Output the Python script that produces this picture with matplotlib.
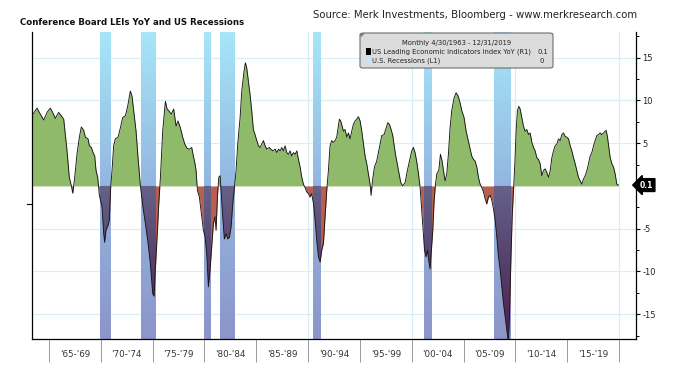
import numpy as np
import matplotlib
matplotlib.use("Agg")
import matplotlib.pyplot as plt
from matplotlib.colors import LinearSegmentedColormap
from matplotlib.patches import FancyBboxPatch, Rectangle, Polygon

# ---------------- data ----------------
lei_years = [
    1963.36, 1963.84, 1964.16, 1964.49, 1964.81, 1965.13, 1965.35, 1965.61, 1965.93, 1966.19,
    1966.42, 1966.58, 1966.74, 1966.96, 1967.16, 1967.29, 1967.48, 1967.70, 1967.93, 1968.12,
    1968.35, 1968.51, 1968.77, 1968.89, 1969.09, 1969.25, 1969.41, 1969.54, 1969.70, 1969.86,
    1970.12, 1970.28, 1970.37, 1970.50, 1970.70, 1970.82, 1970.95, 1971.08, 1971.24, 1971.40,
    1971.66, 1971.89, 1972.11, 1972.37, 1972.59, 1972.85, 1973.01, 1973.17, 1973.40, 1973.59,
    1973.82, 1974.07, 1974.30, 1974.56, 1974.78, 1975.01, 1975.14, 1975.26, 1975.43, 1975.59,
    1975.75, 1975.97, 1976.23, 1976.39, 1976.55, 1976.81, 1977.03, 1977.26, 1977.45, 1977.68,
    1977.90, 1978.10, 1978.32,
    1978.55, 1978.77, 1978.93, 1979.09, 1979.19, 1979.32, 1979.51, 1979.74, 1979.90, 1980.06,
    1980.22, 1980.38, 1980.54, 1980.70, 1980.86, 1981.02, 1981.12, 1981.25, 1981.38, 1981.51,
    1981.64, 1981.76, 1981.92, 1982.09, 1982.25, 1982.41, 1982.57, 1982.73, 1982.89, 1983.05,
    1983.21, 1983.44, 1983.60, 1983.82, 1983.95, 1984.08, 1984.24, 1984.40, 1984.56, 1984.72,
    1984.88, 1985.05, 1985.21, 1985.37, 1985.53, 1985.69, 1985.85, 1986.01, 1986.27, 1986.40,
    1986.59, 1986.82, 1986.98, 1987.14, 1987.30, 1987.46, 1987.62, 1987.78, 1987.94, 1988.10,
    1988.26, 1988.42, 1988.58, 1988.75, 1988.91, 1989.07, 1989.23, 1989.39, 1989.55, 1989.71,
    1989.87, 1990.03, 1990.19, 1990.35, 1990.52, 1990.68, 1990.84, 1991.00, 1991.16, 1991.32,
    1991.48, 1991.64, 1991.80, 1991.96, 1992.12, 1992.28, 1992.45, 1992.61,
    1992.76, 1992.92, 1993.02, 1993.15, 1993.28, 1993.41, 1993.57, 1993.73, 1993.89, 1994.05,
    1994.21, 1994.37, 1994.53, 1994.69, 1994.85, 1995.02, 1995.18, 1995.34, 1995.50, 1995.66,
    1995.82, 1995.98, 1996.08, 1996.21, 1996.40, 1996.62, 1996.88, 1997.11, 1997.33, 1997.53,
    1997.69, 1997.85, 1998.01, 1998.17, 1998.33, 1998.49, 1998.72, 1998.94, 1999.13, 1999.36,
    1999.58, 1999.78, 2000.00, 2000.16, 2000.32, 2000.49, 2000.65, 2000.81, 2000.97, 2001.10,
    2001.23, 2001.39, 2001.52, 2001.64, 2001.77, 2001.90, 2002.03, 2002.16, 2002.29, 2002.42,
    2002.61, 2002.77, 2002.93, 2003.06, 2003.22, 2003.38, 2003.54, 2003.70, 2003.86, 2004.09,
    2004.28, 2004.48, 2004.67, 2004.83, 2005.05, 2005.25, 2005.38, 2005.57, 2005.79, 2005.96,
    2006.12, 2006.28, 2006.44, 2006.60, 2006.76, 2006.92, 2007.08,
    2007.24, 2007.40, 2007.57, 2007.73, 2007.89, 2008.05, 2008.21, 2008.37, 2008.53, 2008.69,
    2008.85, 2009.01, 2009.17, 2009.33, 2009.43, 2009.56, 2009.69, 2009.82, 2009.95, 2010.07,
    2010.20, 2010.33, 2010.46, 2010.62, 2010.78, 2010.94, 2011.10, 2011.27, 2011.43, 2011.59,
    2011.75, 2011.91, 2012.07, 2012.23, 2012.39, 2012.55, 2012.71, 2012.87, 2013.03, 2013.20,
    2013.36, 2013.52, 2013.68, 2013.84, 2014.00, 2014.16, 2014.32, 2014.48, 2014.64, 2014.80,
    2014.97, 2015.13, 2015.29, 2015.45, 2015.61, 2015.77, 2015.93, 2016.09, 2016.25, 2016.41,
    2016.57, 2016.74, 2016.90, 2017.06, 2017.22, 2017.38, 2017.54, 2017.70, 2017.86, 2018.02,
    2018.18, 2018.34, 2018.50, 2018.67, 2018.76, 2018.89, 2019.02, 2019.15, 2019.31, 2019.47,
    2019.63, 2019.79, 2019.95,
]
lei_yoy = [
    8.2, 9.1, 8.4, 7.7, 8.6, 9.1, 8.6, 7.9, 8.6, 8.2,
    7.8, 6.0, 4.1, 1.0, 0.0, -0.85, 1.0, 3.7, 5.7, 6.9,
    6.5, 5.7, 5.5, 4.7, 4.5, 3.9, 3.5, 1.8, 1.0, -1.1,
    -2.5, -5.6, -6.6, -5.2, -4.6, -4.0, -0.2, 1.8, 4.7, 5.5,
    5.7, 6.8, 8.0, 8.2, 9.3, 11.1, 10.5, 8.8, 6.4, 3.3,
    0.0, -2.5, -4.4, -6.7, -9.1, -12.6, -12.9, -9.8, -6.0, -2.1,
    1.0, 6.4, 9.9, 9.0, 8.8, 8.4, 9.0, 7.0, 7.6, 6.8,
    5.7, 4.9, 4.4,
    4.3, 4.5, 3.5, 2.6, 1.8, -0.5, -1.3, -3.6, -5.2, -6.0,
    -7.9, -11.8, -9.8, -7.1, -4.4, -3.6, -5.2, -1.3, 1.0, 1.2,
    -1.3, -3.6, -6.2, -5.6, -6.2, -6.0, -4.8, -2.1, -0.2, 1.8,
    4.9, 8.0, 11.1, 13.4, 14.4, 13.8, 12.2, 10.7, 8.8, 6.6,
    6.0, 5.3, 4.7, 4.5, 4.9, 5.3, 4.7, 4.3, 4.5, 4.3,
    4.1, 4.3, 3.9, 4.3, 4.1, 4.5, 4.1, 4.7, 3.9, 3.7,
    4.1, 3.5, 3.9, 3.7, 4.1, 3.1, 2.2, 1.0, 0.2, -0.2,
    -0.7, -0.9, -1.3, -0.9, -2.1, -4.0, -6.4, -8.3, -8.9, -7.5,
    -6.7, -3.6, -0.5, 1.8, 4.7, 5.3, 5.1, 5.3,
    5.7, 7.0, 7.8, 7.6, 7.0, 6.4, 6.6, 5.7, 6.2, 5.5,
    6.4, 7.2, 7.6, 7.8, 8.1, 7.6, 6.4, 4.9, 3.5, 2.6,
    1.4, 0.2, -1.1, 0.6, 2.2, 2.9, 4.5, 5.9, 6.0, 6.8,
    7.4, 7.2, 6.6, 5.9, 4.5, 3.3, 1.8, 0.4, 0.0, 0.4,
    1.8, 2.9, 4.1, 4.5, 3.9, 2.8, 1.4, -0.2, -2.9, -5.2,
    -7.5, -8.3, -7.5, -8.7, -9.7, -7.5, -5.2, -1.7, 0.2, 1.4,
    1.8, 3.7, 2.9, 1.8, 0.6, 1.4, 3.7, 6.8, 8.8, 10.3,
    10.9, 10.5, 9.7, 8.8, 8.0, 6.4, 5.7, 4.7, 3.5, 3.1,
    2.9, 2.2, 1.0, 0.2, -0.2, -0.7, -1.5,
    -2.1, -1.3, -1.1, -1.7, -2.7, -4.0, -6.0, -8.3, -9.8, -11.8,
    -13.7, -15.3, -16.8, -18.3, -15.3, -9.1, -3.6, -0.5, 2.6, 6.4,
    8.8, 9.3, 9.0, 8.0, 7.0, 6.4, 6.6, 6.0, 6.2, 5.1,
    4.5, 4.1, 3.3, 3.1, 2.6, 1.2, 1.8, 2.0, 1.6, 1.0,
    1.8, 3.3, 4.1, 4.7, 4.9, 5.5, 5.3, 6.0, 6.2, 5.8,
    5.7, 5.5, 4.7, 4.1, 3.3, 2.6, 1.8, 1.0, 0.6, 0.2,
    0.8, 1.2, 1.8, 2.6, 3.5, 3.9, 4.7, 5.3, 5.9, 6.0,
    6.2, 6.0, 6.2, 6.4, 6.5, 5.7, 4.5, 3.3, 2.6, 2.2,
    1.4, 0.2, 0.1,
]

# US recessions (NBER), start / end as decimal years
rec_start = [1969.92, 1973.83, 1980.00, 1981.50, 1990.50, 2001.17, 2007.92]
rec_end = [1970.92, 1975.25, 1980.58, 1982.92, 1991.25, 2001.92, 2009.50]

period_years = [1965, 1970, 1975, 1980, 1985, 1990, 1995, 2000, 2005, 2010, 2015, 2020]
period_labels = ["'65-'69", "'70-'74", "'75-'79", "'80-'84", "'85-'89", "'90-'94",
                 "'95-'99", "'00-'04", "'05-'09", "'10-'14", "'15-'19"]
last_value = 0.1

# ---------------- figure ----------------
W, H = 680, 369
fig = plt.figure(figsize=(W / 100, H / 100), dpi=100)
L, R, B, T = 32, 636, 339, 32
ax = fig.add_axes([L / W, (H - B) / H, (R - L) / W, (B - T) / H])

XMIN, XMAX = 1963.36, 2021.64
YMIN, YMAX = -17.9, 18.0

x = np.array(lei_years)
v = np.array(lei_yoy)
# add zero crossings so that positive / negative fills meet the line exactly
xx, vv = [x[0]], [v[0]]
for i in range(len(x) - 1):
    if v[i] * v[i + 1] < 0:
        t = v[i] / (v[i] - v[i + 1])
        xx.append(x[i] + t * (x[i + 1] - x[i]))
        vv.append(0.0)
    xx.append(x[i + 1])
    vv.append(v[i + 1])
xx = np.array(xx)
vv = np.array(vv)

grid_c = "#d8eef5"
for yv in [-15, -10, -5, 5, 10, 15]:
    ax.axhline(yv, color=grid_c, lw=0.8, zorder=0)
for xv in [1970, 1980, 1990, 2000, 2010, 2020]:
    ax.axvline(xv, color=grid_c, lw=0.8, zorder=0)

bar_cmap = LinearSegmentedColormap.from_list(
    "bar", [(0.0, "#8c95c9"), (0.5, "#93b6e0"), (1.0, "#a6e6f8")])
purple_cmap = LinearSegmentedColormap.from_list(
    "pur", [(0.0, "#4d1f52"), (0.5, "#56406c"), (1.0, "#65628a")])
grad = np.linspace(0, 1, 256).reshape(-1, 1)

for s, e in zip(rec_start, rec_end):
    ax.imshow(grad, extent=[s, e, YMIN, YMAX], aspect="auto", origin="lower",
              cmap=bar_cmap, interpolation="bilinear", zorder=1)

ax.fill_between(xx, np.maximum(vv, 0), 0, color="#8fba6a", lw=0, zorder=2)
neg = ax.fill_between(xx, np.minimum(vv, 0), 0, color="#b8604f", lw=0, zorder=2)
neg_path = neg.get_paths()[0]
for s, e in zip(rec_start, rec_end):
    im = ax.imshow(grad, extent=[s, e, YMIN, 0], aspect="auto", origin="lower",
                   cmap=purple_cmap, interpolation="bilinear", zorder=3)
    im.set_clip_path(neg_path, transform=ax.transData)

ax.plot(x, v, color="#151515", lw=0.65, zorder=4)

ax.set_xlim(XMIN, XMAX)
ax.set_ylim(YMIN, YMAX)

# spines
for sp in ["left", "right", "bottom"]:
    ax.spines[sp].set_color("black")
    ax.spines[sp].set_linewidth(0.9)
ax.spines["top"].set_visible(False)

# right y axis
ax.yaxis.tick_right()
ax.set_yticks([-15, -10, -5, 5, 10, 15])
ax.set_yticklabels(["-15", "-10", "-5", "5", "10", "15"])
ax.set_yticks([-17.5, -12.5, -7.5, -2.5, 2.5, 7.5, 12.5, 17.5], minor=True)
ax.tick_params(axis="y", which="major", length=3, width=0.8, pad=1.5,
               labelsize=6, labelcolor="#222222")
ax.tick_params(axis="y", which="minor", length=1.8, width=0.7)

# left recession axis tick
ax.plot([-0.009, 0], [-2.06, -2.06], color="black", lw=0.8,
        transform=ax.get_yaxis_transform(), clip_on=False)

# x axis: separators as major ticks, labels at minor ticks
ax.set_xticks(period_years)
ax.set_xticklabels([""] * len(period_years))
mids = [(period_years[i] + period_years[i + 1]) / 2 for i in range(len(period_labels))]
ax.set_xticks(mids, minor=True)
ax.set_xticklabels(period_labels, minor=True)
ax.tick_params(axis="x", which="major", length=16.5, width=0.6, color="#8a8a8a")
ax.tick_params(axis="x", which="minor", length=0, pad=8, labelsize=6.3,
               labelcolor="#333333")

# last value marker
ax.text(1.006, last_value, f"{last_value:.1f}", transform=ax.get_yaxis_transform(),
        color="white", fontsize=5.5, fontweight="bold", va="center", ha="left",
        bbox=dict(boxstyle="larrow,pad=0.25", fc="black", ec="black"), clip_on=False)

# legend box
def axx(px):
    return (px - L) / (R - L)

def axy(py):
    return (B - py) / (B - T)

box = FancyBboxPatch((axx(360), axy(68)), axx(553) - axx(360), axy(33) - axy(68),
                     boxstyle="round,pad=0,rounding_size=0.006", transform=ax.transAxes,
                     fc="#dcdcdc", ec="#6e6e6e", lw=0.8, zorder=10)
ax.add_patch(box)
ax.add_patch(Polygon([(axx(360.5), axy(33.5)), (axx(365), axy(33.5)), (axx(360.5), axy(37.5))],
                     closed=True, transform=ax.transAxes, fc="#777777", ec="none", zorder=11))
fs = 4.9
ax.text(axx(457), axy(42.5), "Monthly 4/30/1963 - 12/31/2019", transform=ax.transAxes,
        fontsize=fs, ha="center", va="center", color="#222222", zorder=11)
ax.add_patch(Rectangle((axx(365.5), axy(54.5)), axx(371) - axx(365.5), axy(48) - axy(54.5),
                       transform=ax.transAxes, fc="black", ec="none", zorder=11))
ax.add_patch(Rectangle((axx(365.5), axy(64)), axx(371) - axx(365.5), axy(57.5) - axy(64),
                       transform=ax.transAxes, fc="#c9e2f5", ec="none", zorder=11))
ax.text(axx(372), axy(51.5), "US Leading Economic Indicators Index YoY (R1)",
        transform=ax.transAxes, fontsize=fs, ha="left", va="center", color="#222222", zorder=11)
ax.text(axx(548), axy(51.5), "0.1", transform=ax.transAxes, fontsize=fs, ha="right",
        va="center", color="#222222", zorder=11)
ax.text(axx(372), axy(61), "U.S. Recessions (L1)", transform=ax.transAxes, fontsize=fs,
        ha="left", va="center", color="#222222", zorder=11)
ax.text(axx(543.5), axy(61), "0", transform=ax.transAxes, fontsize=fs, ha="right",
        va="center", color="#222222", zorder=11)

# titles
fig.text(20 / W, 1 - 22.5 / H, "Conference Board LEIs YoY and US Recessions",
         fontsize=6.2, fontweight="bold", ha="left", va="center", color="#111111")
fig.text(313 / W, 1 - 15 / H, "Source: Merk Investments, Bloomberg - www.merkresearch.com",
         fontsize=7.3, ha="left", va="center", color="#222222")

fig.savefig("out.png", dpi=100)
